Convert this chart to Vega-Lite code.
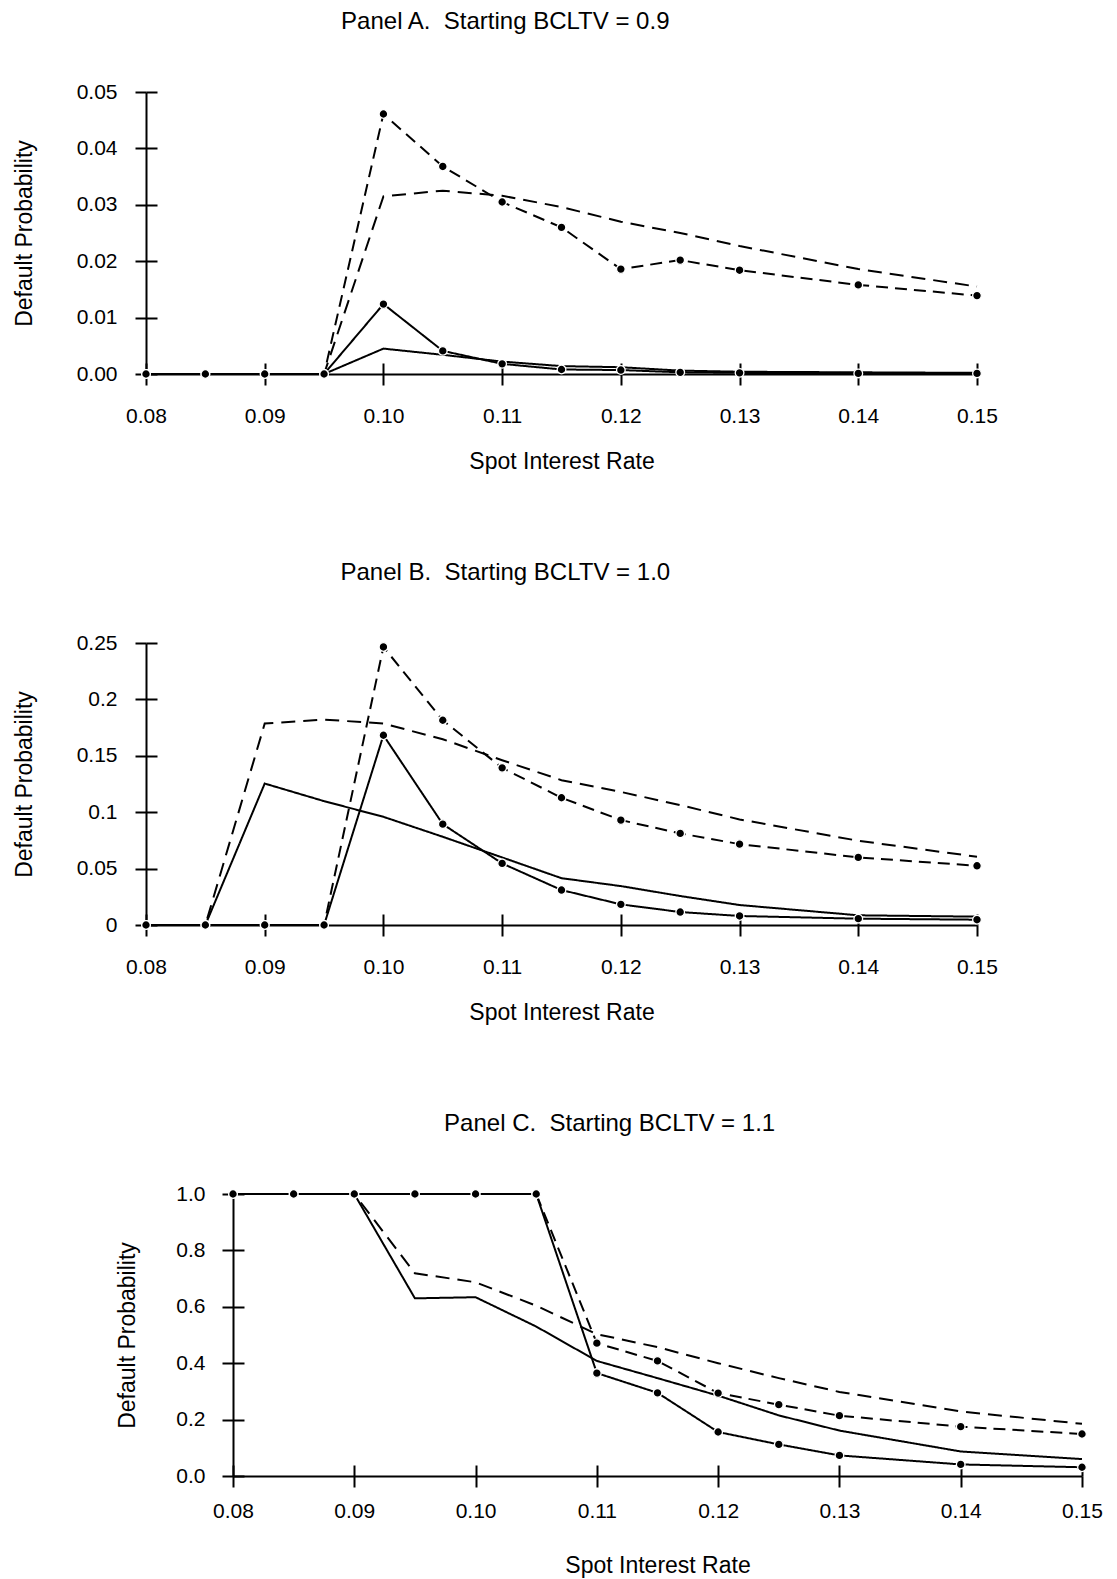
{
  "$schema": "https://vega.github.io/schema/vega-lite/v6.json",
  "padding": {"left": 13, "top": 10, "right": 5, "bottom": 5},
  "background": "white",
  "datasets": {
    "A": [
      {"rate":0.08,"series":"solid","p":0},{"rate":0.085,"series":"solid","p":0},{"rate":0.09,"series":"solid","p":0},{"rate":0.095,"series":"solid","p":0},{"rate":0.10,"series":"solid","p":0.0045},{"rate":0.105,"series":"solid","p":0.0034},{"rate":0.11,"series":"solid","p":0.0022},{"rate":0.115,"series":"solid","p":0.0014},{"rate":0.12,"series":"solid","p":0.0012},{"rate":0.125,"series":"solid","p":0.0006},{"rate":0.13,"series":"solid","p":0.0004},{"rate":0.14,"series":"solid","p":0.0003},{"rate":0.15,"series":"solid","p":0.0002},
      {"rate":0.08,"series":"solid_dot","p":0},{"rate":0.085,"series":"solid_dot","p":0},{"rate":0.09,"series":"solid_dot","p":0},{"rate":0.095,"series":"solid_dot","p":0},{"rate":0.10,"series":"solid_dot","p":0.0124},{"rate":0.105,"series":"solid_dot","p":0.0041},{"rate":0.11,"series":"solid_dot","p":0.0018},{"rate":0.115,"series":"solid_dot","p":0.0008},{"rate":0.12,"series":"solid_dot","p":0.0007},{"rate":0.125,"series":"solid_dot","p":0.0003},{"rate":0.13,"series":"solid_dot","p":0.0002},{"rate":0.14,"series":"solid_dot","p":0.0001},{"rate":0.15,"series":"solid_dot","p":0.0001},
      {"rate":0.08,"series":"dashed","p":0},{"rate":0.085,"series":"dashed","p":0},{"rate":0.09,"series":"dashed","p":0},{"rate":0.095,"series":"dashed","p":0},{"rate":0.10,"series":"dashed","p":0.0315},{"rate":0.105,"series":"dashed","p":0.0325},{"rate":0.11,"series":"dashed","p":0.0316},{"rate":0.115,"series":"dashed","p":0.0296},{"rate":0.12,"series":"dashed","p":0.0270},{"rate":0.125,"series":"dashed","p":0.0250},{"rate":0.13,"series":"dashed","p":0.0227},{"rate":0.14,"series":"dashed","p":0.0186},{"rate":0.15,"series":"dashed","p":0.0155},
      {"rate":0.08,"series":"dashed_dot","p":0},{"rate":0.085,"series":"dashed_dot","p":0},{"rate":0.09,"series":"dashed_dot","p":0},{"rate":0.095,"series":"dashed_dot","p":0},{"rate":0.10,"series":"dashed_dot","p":0.0461},{"rate":0.105,"series":"dashed_dot","p":0.0368},{"rate":0.11,"series":"dashed_dot","p":0.0305},{"rate":0.115,"series":"dashed_dot","p":0.0260},{"rate":0.12,"series":"dashed_dot","p":0.0186},{"rate":0.125,"series":"dashed_dot","p":0.0202},{"rate":0.13,"series":"dashed_dot","p":0.0184},{"rate":0.14,"series":"dashed_dot","p":0.0158},{"rate":0.15,"series":"dashed_dot","p":0.0139}
    ],
    "B": [
      {"rate":0.08,"series":"solid","p":0},{"rate":0.085,"series":"solid","p":0},{"rate":0.09,"series":"solid","p":0.1254},{"rate":0.095,"series":"solid","p":0.1098},{"rate":0.10,"series":"solid","p":0.0959},{"rate":0.105,"series":"solid","p":0.0782},{"rate":0.11,"series":"solid","p":0.0599},{"rate":0.115,"series":"solid","p":0.0415},{"rate":0.12,"series":"solid","p":0.0345},{"rate":0.125,"series":"solid","p":0.0257},{"rate":0.13,"series":"solid","p":0.0177},{"rate":0.14,"series":"solid","p":0.0086},{"rate":0.15,"series":"solid","p":0.0074},
      {"rate":0.08,"series":"solid_dot","p":0},{"rate":0.085,"series":"solid_dot","p":0},{"rate":0.09,"series":"solid_dot","p":0},{"rate":0.095,"series":"solid_dot","p":0},{"rate":0.10,"series":"solid_dot","p":0.1682},{"rate":0.105,"series":"solid_dot","p":0.0894},{"rate":0.11,"series":"solid_dot","p":0.0546},{"rate":0.115,"series":"solid_dot","p":0.031},{"rate":0.12,"series":"solid_dot","p":0.0183},{"rate":0.125,"series":"solid_dot","p":0.0115},{"rate":0.13,"series":"solid_dot","p":0.008},{"rate":0.14,"series":"solid_dot","p":0.0056},{"rate":0.15,"series":"solid_dot","p":0.0047},
      {"rate":0.08,"series":"dashed","p":0},{"rate":0.085,"series":"dashed","p":0},{"rate":0.09,"series":"dashed","p":0.1786},{"rate":0.095,"series":"dashed","p":0.1821},{"rate":0.10,"series":"dashed","p":0.1786},{"rate":0.105,"series":"dashed","p":0.1647},{"rate":0.11,"series":"dashed","p":0.1461},{"rate":0.115,"series":"dashed","p":0.1284},{"rate":0.12,"series":"dashed","p":0.118},{"rate":0.125,"series":"dashed","p":0.1063},{"rate":0.13,"series":"dashed","p":0.0936},{"rate":0.14,"series":"dashed","p":0.0747},{"rate":0.15,"series":"dashed","p":0.0605},
      {"rate":0.08,"series":"dashed_dot","p":0},{"rate":0.085,"series":"dashed_dot","p":0},{"rate":0.09,"series":"dashed_dot","p":0},{"rate":0.095,"series":"dashed_dot","p":0},{"rate":0.10,"series":"dashed_dot","p":0.2465},{"rate":0.105,"series":"dashed_dot","p":0.1815},{"rate":0.11,"series":"dashed_dot","p":0.1393},{"rate":0.115,"series":"dashed_dot","p":0.1128},{"rate":0.12,"series":"dashed_dot","p":0.093},{"rate":0.125,"series":"dashed_dot","p":0.0812},{"rate":0.13,"series":"dashed_dot","p":0.0717},{"rate":0.14,"series":"dashed_dot","p":0.0599},{"rate":0.15,"series":"dashed_dot","p":0.0525}
    ],
    "C": [
      {"rate":0.08,"series":"solid","p":1},{"rate":0.085,"series":"solid","p":1},{"rate":0.09,"series":"solid","p":1},{"rate":0.095,"series":"solid","p":0.630},{"rate":0.10,"series":"solid","p":0.634},{"rate":0.105,"series":"solid","p":0.530},{"rate":0.11,"series":"solid","p":0.408},{"rate":0.115,"series":"solid","p":0.347},{"rate":0.12,"series":"solid","p":0.285},{"rate":0.125,"series":"solid","p":0.215},{"rate":0.13,"series":"solid","p":0.161},{"rate":0.14,"series":"solid","p":0.087},{"rate":0.15,"series":"solid","p":0.060},
      {"rate":0.08,"series":"solid_dot","p":1},{"rate":0.085,"series":"solid_dot","p":1},{"rate":0.09,"series":"solid_dot","p":1},{"rate":0.095,"series":"solid_dot","p":1},{"rate":0.10,"series":"solid_dot","p":1},{"rate":0.105,"series":"solid_dot","p":1},{"rate":0.11,"series":"solid_dot","p":0.365},{"rate":0.115,"series":"solid_dot","p":0.295},{"rate":0.12,"series":"solid_dot","p":0.156},{"rate":0.125,"series":"solid_dot","p":0.112},{"rate":0.13,"series":"solid_dot","p":0.073},{"rate":0.14,"series":"solid_dot","p":0.041},{"rate":0.15,"series":"solid_dot","p":0.031},
      {"rate":0.08,"series":"dashed","p":1},{"rate":0.085,"series":"dashed","p":1},{"rate":0.09,"series":"dashed","p":1},{"rate":0.095,"series":"dashed","p":0.719},{"rate":0.10,"series":"dashed","p":0.687},{"rate":0.105,"series":"dashed","p":0.604},{"rate":0.11,"series":"dashed","p":0.503},{"rate":0.115,"series":"dashed","p":0.457},{"rate":0.12,"series":"dashed","p":0.400},{"rate":0.125,"series":"dashed","p":0.347},{"rate":0.13,"series":"dashed","p":0.298},{"rate":0.14,"series":"dashed","p":0.229},{"rate":0.15,"series":"dashed","p":0.185},
      {"rate":0.08,"series":"dashed_dot","p":1},{"rate":0.085,"series":"dashed_dot","p":1},{"rate":0.09,"series":"dashed_dot","p":1},{"rate":0.095,"series":"dashed_dot","p":1},{"rate":0.10,"series":"dashed_dot","p":1},{"rate":0.105,"series":"dashed_dot","p":1},{"rate":0.11,"series":"dashed_dot","p":0.471},{"rate":0.115,"series":"dashed_dot","p":0.408},{"rate":0.12,"series":"dashed_dot","p":0.294},{"rate":0.125,"series":"dashed_dot","p":0.253},{"rate":0.13,"series":"dashed_dot","p":0.214},{"rate":0.14,"series":"dashed_dot","p":0.175},{"rate":0.15,"series":"dashed_dot","p":0.149}
    ]
  },
  "vconcat": [
    {
      "title": {"text": "Panel A. \u00a0Starting BCLTV = 0.9", "offset": 47},
      "width": 831, "height": 282,
      "data": {"name": "A"},
      "layer": [
        {
          "mark": {"type": "line", "color": "black", "strokeWidth": 2},
          "encoding": {
            "x": {"field": "rate", "type": "quantitative", "scale": {"domain": [0.08, 0.15], "nice": false, "zero": false},
                  "axis": {"orient": "bottom", "values": [0.08,0.09,0.10,0.11,0.12,0.13,0.14,0.15], "format": ".2f", "title": "Spot Interest Rate", "tickSize": 11, "labelPadding": 20, "titlePadding": 24.5}},
            "y": {"field": "p", "type": "quantitative", "scale": {"domain": [0, 0.05], "nice": false},
                  "axis": {"orient": "left", "values": [0,0.01,0.02,0.03,0.04,0.05], "format": ".2f", "title": "Default Probability", "tickSize": 11, "labelPadding": 18, "titlePadding": 40}},
            "detail": {"field": "series"},
            "strokeDash": {"field": "series", "type": "nominal", "scale": {"domain": ["solid","solid_dot","dashed","dashed_dot"], "range": [[1,0],[1,0],[14,8],[12,7]]}, "legend": null}
          }
        },
        {
          "transform": [{"filter": "indexof(datum.series, 'dot') >= 0"}],
          "mark": {"type": "point", "filled": true, "fill": "black", "stroke": "white", "strokeWidth": 1.3, "size": 75, "opacity": 1},
          "encoding": {
            "x": {"field": "rate", "type": "quantitative", "scale": {"domain": [0.08, 0.15], "nice": false, "zero": false},
                  "axis": {"orient": "bottom", "values": [0.08,0.09,0.10,0.11,0.12,0.13,0.14,0.15], "labels": false, "domain": false, "title": null, "tickSize": -11}},
            "y": {"field": "p", "type": "quantitative", "scale": {"domain": [0, 0.05], "nice": false},
                  "axis": {"orient": "left", "values": [0,0.01,0.02,0.03,0.04,0.05], "labels": false, "domain": false, "title": null, "tickSize": -11}}
          }
        }
      ],
      "resolve": {"scale": {"x": "independent", "y": "independent"}}
    },
    {
      "title": {"text": "Panel B. \u00a0Starting BCLTV = 1.0", "offset": 47},
      "width": 831, "height": 282,
      "data": {"name": "B"},
      "layer": [
        {
          "mark": {"type": "line", "color": "black", "strokeWidth": 2},
          "encoding": {
            "x": {"field": "rate", "type": "quantitative", "scale": {"domain": [0.08, 0.15], "nice": false, "zero": false},
                  "axis": {"orient": "bottom", "values": [0.08,0.09,0.10,0.11,0.12,0.13,0.14,0.15], "format": ".2f", "title": "Spot Interest Rate", "tickSize": 11, "labelPadding": 20, "titlePadding": 24.5}},
            "y": {"field": "p", "type": "quantitative", "scale": {"domain": [0, 0.25], "nice": false},
                  "axis": {"orient": "left", "values": [0,0.05,0.1,0.15,0.2,0.25], "format": "~g", "title": "Default Probability", "tickSize": 11, "labelPadding": 18, "titlePadding": 40}},
            "detail": {"field": "series"},
            "strokeDash": {"field": "series", "type": "nominal", "scale": {"domain": ["solid","solid_dot","dashed","dashed_dot"], "range": [[1,0],[1,0],[14,8],[12,7]]}, "legend": null}
          }
        },
        {
          "transform": [{"filter": "indexof(datum.series, 'dot') >= 0"}],
          "mark": {"type": "point", "filled": true, "fill": "black", "stroke": "white", "strokeWidth": 1.3, "size": 75, "opacity": 1},
          "encoding": {
            "x": {"field": "rate", "type": "quantitative", "scale": {"domain": [0.08, 0.15], "nice": false, "zero": false},
                  "axis": {"orient": "bottom", "values": [0.08,0.09,0.10,0.11,0.12,0.13,0.14,0.15], "labels": false, "domain": false, "title": null, "tickSize": -11}},
            "y": {"field": "p", "type": "quantitative", "scale": {"domain": [0, 0.25], "nice": false},
                  "axis": {"orient": "left", "values": [0,0.05,0.1,0.15,0.2,0.25], "labels": false, "domain": false, "title": null, "tickSize": -11}}
          }
        }
      ],
      "resolve": {"scale": {"x": "independent", "y": "independent"}}
    },
    {
      "title": {"text": "Panel C. \u00a0Starting BCLTV = 1.1", "offset": 47},
      "width": 936, "height": 282,
      "data": {"name": "C"},
      "layer": [
        {
          "mark": {"type": "line", "color": "black", "strokeWidth": 2},
          "encoding": {
            "x": {"field": "rate", "type": "quantitative", "scale": {"domain": [0.08, 0.15], "range": [87, 936], "nice": false, "zero": false},
                  "axis": {"orient": "bottom", "values": [0.08,0.09,0.10,0.11,0.12,0.13,0.14,0.15], "format": ".2f", "title": "Spot Interest Rate", "tickSize": 11, "labelPadding": 13, "titlePadding": 33}},
            "y": {"field": "p", "type": "quantitative", "scale": {"domain": [0, 1], "nice": false},
                  "axis": {"orient": "left", "offset": -87, "values": [0,0.2,0.4,0.6,0.8,1.0], "format": ".1f", "title": "Default Probability", "tickSize": 11, "labelPadding": 17, "titlePadding": 36}},
            "detail": {"field": "series"},
            "strokeDash": {"field": "series", "type": "nominal", "scale": {"domain": ["solid","solid_dot","dashed","dashed_dot"], "range": [[1,0],[1,0],[14,8],[12,7]]}, "legend": null}
          }
        },
        {
          "transform": [{"filter": "indexof(datum.series, 'dot') >= 0"}],
          "mark": {"type": "point", "filled": true, "fill": "black", "stroke": "white", "strokeWidth": 1.3, "size": 75, "opacity": 1},
          "encoding": {
            "x": {"field": "rate", "type": "quantitative", "scale": {"domain": [0.08, 0.15], "range": [87, 936], "nice": false, "zero": false},
                  "axis": {"orient": "bottom", "values": [0.08,0.09,0.10,0.11,0.12,0.13,0.14,0.15], "labels": false, "domain": false, "title": null, "tickSize": -11}},
            "y": {"field": "p", "type": "quantitative", "scale": {"domain": [0, 1], "nice": false},
                  "axis": {"orient": "left", "offset": -87, "values": [0,0.2,0.4,0.6,0.8,1.0], "labels": false, "domain": false, "title": null, "tickSize": -11}}
          }
        }
      ],
      "resolve": {"scale": {"x": "independent", "y": "independent"}}
    }
  ],
  "spacing": 87,
  "config": {
    "view": {"stroke": null},
    "axis": {"grid": false, "domainColor": "black", "domainWidth": 2, "tickColor": "black", "tickWidth": 2,
             "labelFlush": false, "labelOverlap": false,
             "labelFont": "Liberation Sans", "labelFontSize": 21, "labelColor": "black",
             "titleFont": "Liberation Sans", "titleFontSize": 23, "titleFontWeight": "normal", "titleColor": "black"},
    "title": {"font": "Liberation Sans", "fontSize": 24, "fontWeight": "normal", "color": "black", "frame": "bounds"}
  }
}
